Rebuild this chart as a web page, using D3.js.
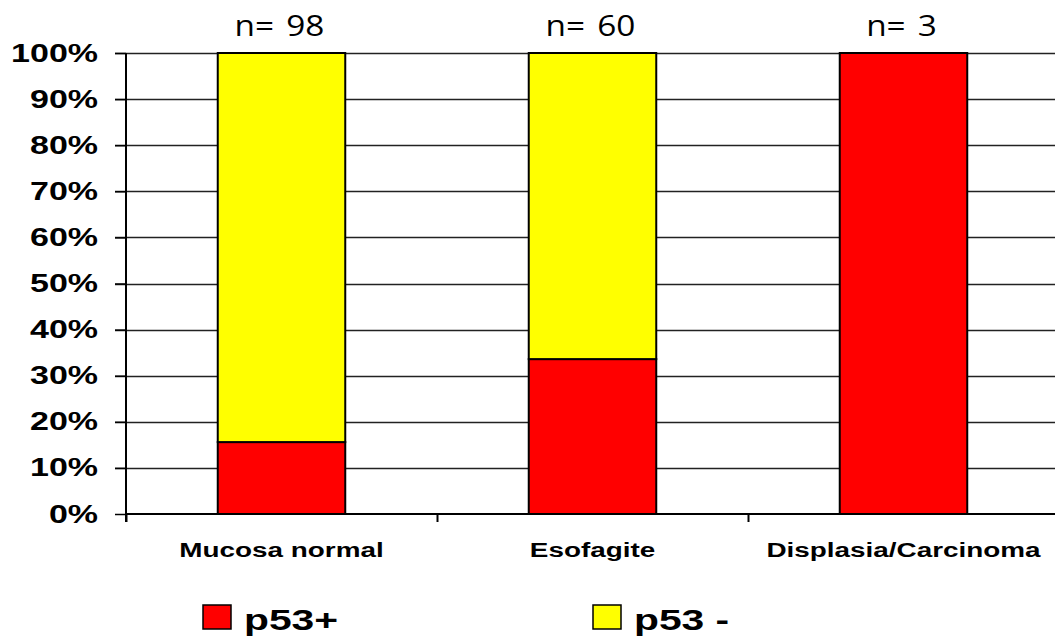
<!DOCTYPE html>
<html>
<head>
<meta charset="utf-8">
<script src="https://cdn.jsdelivr.net/npm/d3@7"></script>
<style>
  body { margin: 0; background: #fff; }
  svg { display: block; }
</style>
</head>
<body>
<svg id="chart" width="1055" height="642"></svg>
<script>
const categories = ["Mucosa normal", "Esofagite", "Displasia/Carcinoma"];
const counts = [98, 60, 3];
const p53pos = [15.6, 33.6, 100];
const p53neg = [84.4, 66.4, 0];
const seriesNames = ["p53+", "p53 -"];
const seriesColors = ["#ff0000", "#ffff00"];
const yTicks = [0, 10, 20, 30, 40, 50, 60, 70, 80, 90, 100];

// the original picture is stretched sideways, so text is widened too
const stretch = 1.36;
const boldFont = "Liberation Sans, Arial, sans-serif";

const svg = d3.select("#chart");
const margin = { top: 53, right: 0, bottom: 128, left: 126 };
const width = 1055 - margin.left - margin.right;
const height = 642 - margin.top - margin.bottom;

const x = d3.scaleBand().domain(categories).range([0, width + 4]).paddingInner(0.59).paddingOuter(0.295);
const y = d3.scaleLinear().domain([0, 100]).range([height, 0]);

const g = svg.append("g").attr("transform", `translate(${margin.left}, ${margin.top})`);

// grid lines
g.append("g")
    .selectAll("line")
    .data(yTicks.filter(d => d > 0))
    .join("line")
    .attr("x1", -11)
    .attr("x2", width)
    .attr("y1", d => Math.round(y(d)) + 0.5)
    .attr("y2", d => Math.round(y(d)) + 0.5)
    .attr("stroke", "#222")
    .attr("stroke-width", 1.5);

// y axis
const yAxis = g.append("g")
    .call(d3.axisLeft(y).tickValues(yTicks).tickFormat(d => d + "%").tickSize(11));
yAxis.select(".domain").attr("stroke", "#000").attr("stroke-width", 2).attr("d", `M0,0V${height + 8}`);
yAxis.selectAll(".tick line").attr("stroke", "#000").attr("stroke-width", 1.5);
yAxis.selectAll("text")
    .attr("x", -28 / stretch)
    .attr("transform", `scale(${stretch},1)`)
    .attr("font-family", boldFont)
    .attr("font-weight", "bold")
    .attr("font-size", 25)
    .attr("fill", "#000");

// stacked bars
const stackData = categories.map((c, i) => ({ cat: c, pos: p53pos[i], neg: p53neg[i] }));
const stack = d3.stack().keys(["pos", "neg"])(stackData);
g.append("g")
    .selectAll("g")
    .data(stack)
    .join("g")
    .attr("fill", (d, i) => seriesColors[i])
    .selectAll("rect")
    .data(d => d.filter(s => s[1] - s[0] > 0))
    .join("rect")
    .attr("x", d => x(d.data.cat))
    .attr("y", d => y(d[1]))
    .attr("width", x.bandwidth())
    .attr("height", d => y(d[0]) - y(d[1]))
    .attr("stroke", "#000")
    .attr("stroke-width", 2);

// x axis
const step = x.step();
g.append("line")
    .attr("x1", 0).attr("x2", width)
    .attr("y1", height).attr("y2", height)
    .attr("stroke", "#000").attr("stroke-width", 2);
g.append("g")
    .selectAll("line")
    .data([0, 1, 2])
    .join("line")
    .attr("x1", i => i * step + 0.5)
    .attr("x2", i => i * step + 0.5)
    .attr("y1", height)
    .attr("y2", height + 8)
    .attr("stroke", "#000")
    .attr("stroke-width", 2);

g.append("g")
    .selectAll("text")
    .data(categories)
    .join("text")
    .attr("transform", d => `translate(${x(d) + x.bandwidth() / 2}, ${height + 43}) scale(${stretch},1)`)
    .attr("text-anchor", "middle")
    .attr("font-family", boldFont)
    .attr("font-weight", "bold")
    .attr("font-size", 20.5)
    .text(d => d);

// n labels
g.append("g")
    .selectAll("text")
    .data(categories)
    .join("text")
    .attr("transform", d => `translate(${x(d) + x.bandwidth() / 2 - 2}, -17) scale(1.15,1)`)
    .attr("text-anchor", "middle")
    .attr("font-family", "Open Sans, Noto Sans, sans-serif")
    .attr("font-size", 29)
    .attr("word-spacing", 3)
    .text((d, i) => "n= " + counts[i]);

// legend
const legendX = [203, 593];
const legend = svg.append("g")
    .selectAll("g")
    .data(seriesNames)
    .join("g")
    .attr("transform", (d, i) => `translate(${legendX[i]}, 605)`);
legend.append("rect")
    .attr("width", 28)
    .attr("height", 24)
    .attr("fill", (d, i) => seriesColors[i])
    .attr("stroke", "#000")
    .attr("stroke-width", 1.5);
legend.append("text")
    .attr("transform", `translate(41, 25) scale(${stretch},1)`)
    .attr("font-family", boldFont)
    .attr("font-weight", "bold")
    .attr("font-size", 30)
    .text(d => d);
</script>
</body>
</html>
